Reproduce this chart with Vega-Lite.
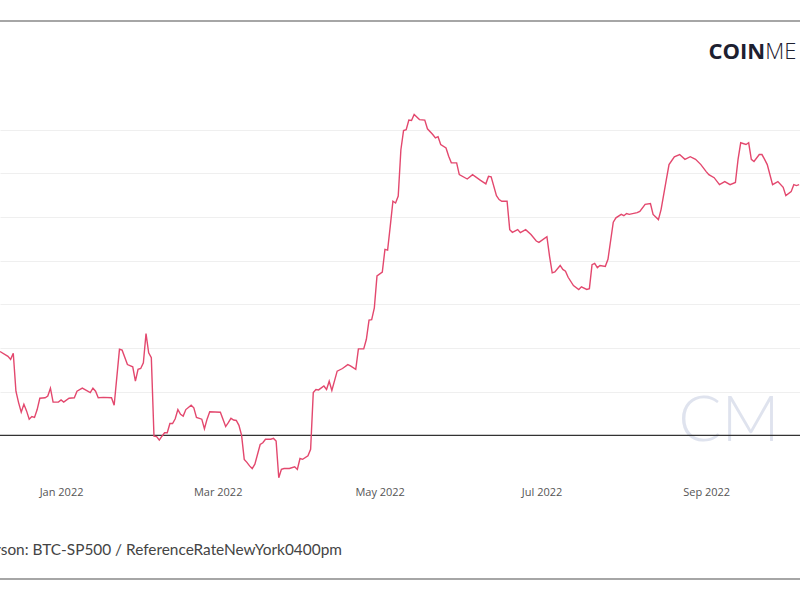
{
  "$schema": "https://vega.github.io/schema/vega-lite/v6.json",
  "width": 800,
  "height": 393,
  "autosize": "none",
  "padding": {"left": 0, "top": 86, "right": 0, "bottom": 121},
  "background": "white",
  "config": {
    "view": {"stroke": null},
    "font": "Open Sans",
    "axisX": {"domain": false, "ticks": false, "grid": false, "labelFont": "Open Sans", "labelFontSize": 11, "labelColor": "#555555", "labelPadding": 7, "title": null},
    "axisY": {"domain": false, "ticks": false, "labels": false, "grid": true, "gridColor": "#efefef", "gridWidth": 1.2, "title": null}
  },
  "datasets": {
    "one": [{}],
    "corr": [
      {"date": "2021-12-09", "value": 0.192},
      {"date": "2021-12-12", "value": 0.181},
      {"date": "2021-12-13", "value": 0.174},
      {"date": "2021-12-14", "value": 0.188},
      {"date": "2021-12-15", "value": 0.101},
      {"date": "2021-12-16", "value": 0.075},
      {"date": "2021-12-17", "value": 0.053},
      {"date": "2021-12-18", "value": 0.071},
      {"date": "2021-12-19", "value": 0.056},
      {"date": "2021-12-20", "value": 0.037},
      {"date": "2021-12-21", "value": 0.043},
      {"date": "2021-12-22", "value": 0.041},
      {"date": "2021-12-23", "value": 0.059},
      {"date": "2021-12-24", "value": 0.085},
      {"date": "2021-12-26", "value": 0.086},
      {"date": "2021-12-27", "value": 0.090},
      {"date": "2021-12-28", "value": 0.108},
      {"date": "2021-12-29", "value": 0.076},
      {"date": "2021-12-31", "value": 0.076},
      {"date": "2022-01-01", "value": 0.081},
      {"date": "2022-01-02", "value": 0.076},
      {"date": "2022-01-04", "value": 0.085},
      {"date": "2022-01-06", "value": 0.086},
      {"date": "2022-01-07", "value": 0.101},
      {"date": "2022-01-09", "value": 0.108},
      {"date": "2022-01-12", "value": 0.098},
      {"date": "2022-01-13", "value": 0.108},
      {"date": "2022-01-14", "value": 0.101},
      {"date": "2022-01-15", "value": 0.086},
      {"date": "2022-01-17", "value": 0.087},
      {"date": "2022-01-20", "value": 0.086},
      {"date": "2022-01-21", "value": 0.069},
      {"date": "2022-01-23", "value": 0.197},
      {"date": "2022-01-24", "value": 0.195},
      {"date": "2022-01-26", "value": 0.162},
      {"date": "2022-01-28", "value": 0.157},
      {"date": "2022-01-29", "value": 0.124},
      {"date": "2022-01-30", "value": 0.151},
      {"date": "2022-01-31", "value": 0.153},
      {"date": "2022-02-01", "value": 0.166},
      {"date": "2022-02-02", "value": 0.233},
      {"date": "2022-02-03", "value": 0.189},
      {"date": "2022-02-04", "value": 0.178},
      {"date": "2022-02-05", "value": -0.002},
      {"date": "2022-02-06", "value": -0.003},
      {"date": "2022-02-07", "value": -0.011},
      {"date": "2022-02-08", "value": -0.002},
      {"date": "2022-02-09", "value": 0.006},
      {"date": "2022-02-10", "value": 0.006},
      {"date": "2022-02-11", "value": 0.027},
      {"date": "2022-02-12", "value": 0.027},
      {"date": "2022-02-13", "value": 0.038},
      {"date": "2022-02-14", "value": 0.059},
      {"date": "2022-02-15", "value": 0.048},
      {"date": "2022-02-16", "value": 0.044},
      {"date": "2022-02-17", "value": 0.059},
      {"date": "2022-02-19", "value": 0.069},
      {"date": "2022-02-20", "value": 0.063},
      {"date": "2022-02-21", "value": 0.041},
      {"date": "2022-02-23", "value": 0.037},
      {"date": "2022-02-24", "value": 0.015},
      {"date": "2022-02-25", "value": 0.037},
      {"date": "2022-02-26", "value": 0.054},
      {"date": "2022-03-02", "value": 0.053},
      {"date": "2022-03-04", "value": 0.020},
      {"date": "2022-03-05", "value": 0.029},
      {"date": "2022-03-06", "value": 0.039},
      {"date": "2022-03-07", "value": 0.035},
      {"date": "2022-03-08", "value": 0.034},
      {"date": "2022-03-09", "value": 0.023},
      {"date": "2022-03-10", "value": 0.000},
      {"date": "2022-03-11", "value": -0.055},
      {"date": "2022-03-12", "value": -0.062},
      {"date": "2022-03-13", "value": -0.070},
      {"date": "2022-03-14", "value": -0.076},
      {"date": "2022-03-15", "value": -0.066},
      {"date": "2022-03-17", "value": -0.021},
      {"date": "2022-03-18", "value": -0.017},
      {"date": "2022-03-19", "value": -0.009},
      {"date": "2022-03-21", "value": -0.009},
      {"date": "2022-03-22", "value": -0.007},
      {"date": "2022-03-23", "value": -0.013},
      {"date": "2022-03-24", "value": -0.097},
      {"date": "2022-03-25", "value": -0.078},
      {"date": "2022-03-26", "value": -0.076},
      {"date": "2022-03-28", "value": -0.076},
      {"date": "2022-03-30", "value": -0.072},
      {"date": "2022-03-31", "value": -0.078},
      {"date": "2022-04-01", "value": -0.053},
      {"date": "2022-04-02", "value": -0.055},
      {"date": "2022-04-04", "value": -0.047},
      {"date": "2022-04-05", "value": -0.032},
      {"date": "2022-04-06", "value": 0.098},
      {"date": "2022-04-07", "value": 0.105},
      {"date": "2022-04-08", "value": 0.104},
      {"date": "2022-04-10", "value": 0.113},
      {"date": "2022-04-11", "value": 0.105},
      {"date": "2022-04-12", "value": 0.124},
      {"date": "2022-04-13", "value": 0.103},
      {"date": "2022-04-15", "value": 0.147},
      {"date": "2022-04-17", "value": 0.153},
      {"date": "2022-04-19", "value": 0.162},
      {"date": "2022-04-20", "value": 0.159},
      {"date": "2022-04-22", "value": 0.151},
      {"date": "2022-04-23", "value": 0.198},
      {"date": "2022-04-25", "value": 0.198},
      {"date": "2022-04-26", "value": 0.220},
      {"date": "2022-04-27", "value": 0.264},
      {"date": "2022-04-28", "value": 0.265},
      {"date": "2022-04-29", "value": 0.292},
      {"date": "2022-04-30", "value": 0.365},
      {"date": "2022-05-02", "value": 0.374},
      {"date": "2022-05-03", "value": 0.426},
      {"date": "2022-05-04", "value": 0.424},
      {"date": "2022-05-05", "value": 0.479},
      {"date": "2022-05-06", "value": 0.536},
      {"date": "2022-05-07", "value": 0.532},
      {"date": "2022-05-08", "value": 0.548},
      {"date": "2022-05-09", "value": 0.654},
      {"date": "2022-05-10", "value": 0.698},
      {"date": "2022-05-11", "value": 0.700},
      {"date": "2022-05-12", "value": 0.722},
      {"date": "2022-05-13", "value": 0.721},
      {"date": "2022-05-14", "value": 0.735},
      {"date": "2022-05-15", "value": 0.729},
      {"date": "2022-05-16", "value": 0.723},
      {"date": "2022-05-18", "value": 0.722},
      {"date": "2022-05-19", "value": 0.702},
      {"date": "2022-05-21", "value": 0.689},
      {"date": "2022-05-22", "value": 0.681},
      {"date": "2022-05-23", "value": 0.684},
      {"date": "2022-05-24", "value": 0.666},
      {"date": "2022-05-26", "value": 0.658},
      {"date": "2022-05-27", "value": 0.639},
      {"date": "2022-05-28", "value": 0.624},
      {"date": "2022-05-30", "value": 0.624},
      {"date": "2022-05-31", "value": 0.597},
      {"date": "2022-06-03", "value": 0.587},
      {"date": "2022-06-05", "value": 0.597},
      {"date": "2022-06-08", "value": 0.584},
      {"date": "2022-06-10", "value": 0.576},
      {"date": "2022-06-11", "value": 0.593},
      {"date": "2022-06-12", "value": 0.592},
      {"date": "2022-06-14", "value": 0.549},
      {"date": "2022-06-15", "value": 0.540},
      {"date": "2022-06-16", "value": 0.536},
      {"date": "2022-06-18", "value": 0.536},
      {"date": "2022-06-19", "value": 0.471},
      {"date": "2022-06-20", "value": 0.465},
      {"date": "2022-06-22", "value": 0.471},
      {"date": "2022-06-23", "value": 0.464},
      {"date": "2022-06-25", "value": 0.471},
      {"date": "2022-06-27", "value": 0.460},
      {"date": "2022-06-29", "value": 0.445},
      {"date": "2022-06-30", "value": 0.442},
      {"date": "2022-07-03", "value": 0.455},
      {"date": "2022-07-04", "value": 0.410},
      {"date": "2022-07-05", "value": 0.372},
      {"date": "2022-07-06", "value": 0.374},
      {"date": "2022-07-08", "value": 0.389},
      {"date": "2022-07-09", "value": 0.380},
      {"date": "2022-07-10", "value": 0.376},
      {"date": "2022-07-11", "value": 0.362},
      {"date": "2022-07-13", "value": 0.343},
      {"date": "2022-07-15", "value": 0.334},
      {"date": "2022-07-16", "value": 0.340},
      {"date": "2022-07-18", "value": 0.334},
      {"date": "2022-07-19", "value": 0.336},
      {"date": "2022-07-20", "value": 0.391},
      {"date": "2022-07-21", "value": 0.394},
      {"date": "2022-07-22", "value": 0.384},
      {"date": "2022-07-23", "value": 0.389},
      {"date": "2022-07-25", "value": 0.387},
      {"date": "2022-07-26", "value": 0.403},
      {"date": "2022-07-28", "value": 0.488},
      {"date": "2022-07-29", "value": 0.498},
      {"date": "2022-07-31", "value": 0.506},
      {"date": "2022-08-01", "value": 0.503},
      {"date": "2022-08-02", "value": 0.508},
      {"date": "2022-08-03", "value": 0.506},
      {"date": "2022-08-06", "value": 0.510},
      {"date": "2022-08-07", "value": 0.513},
      {"date": "2022-08-09", "value": 0.529},
      {"date": "2022-08-11", "value": 0.531},
      {"date": "2022-08-12", "value": 0.506},
      {"date": "2022-08-14", "value": 0.494},
      {"date": "2022-08-15", "value": 0.517},
      {"date": "2022-08-17", "value": 0.586},
      {"date": "2022-08-18", "value": 0.620},
      {"date": "2022-08-20", "value": 0.638},
      {"date": "2022-08-22", "value": 0.643},
      {"date": "2022-08-24", "value": 0.632},
      {"date": "2022-08-26", "value": 0.638},
      {"date": "2022-08-28", "value": 0.632},
      {"date": "2022-08-30", "value": 0.620},
      {"date": "2022-09-01", "value": 0.604},
      {"date": "2022-09-02", "value": 0.597},
      {"date": "2022-09-04", "value": 0.590},
      {"date": "2022-09-06", "value": 0.574},
      {"date": "2022-09-08", "value": 0.581},
      {"date": "2022-09-10", "value": 0.574},
      {"date": "2022-09-12", "value": 0.579},
      {"date": "2022-09-13", "value": 0.632},
      {"date": "2022-09-14", "value": 0.670},
      {"date": "2022-09-16", "value": 0.666},
      {"date": "2022-09-17", "value": 0.670},
      {"date": "2022-09-18", "value": 0.632},
      {"date": "2022-09-19", "value": 0.627},
      {"date": "2022-09-21", "value": 0.643},
      {"date": "2022-09-22", "value": 0.643},
      {"date": "2022-09-23", "value": 0.632},
      {"date": "2022-09-24", "value": 0.620},
      {"date": "2022-09-26", "value": 0.574},
      {"date": "2022-09-28", "value": 0.581},
      {"date": "2022-09-30", "value": 0.568},
      {"date": "2022-10-01", "value": 0.549},
      {"date": "2022-10-03", "value": 0.558},
      {"date": "2022-10-04", "value": 0.574},
      {"date": "2022-10-05", "value": 0.572},
      {"date": "2022-10-06", "value": 0.574}
    ]
  },
  "layer": [
    {
      "data": {"name": "corr"},
      "mark": {"type": "line", "opacity": 0},
      "encoding": {
        "x": {
          "field": "date", "type": "temporal",
          "scale": {"domain": [{"year": 2021, "month": 12, "date": 9, "utc": true}, {"year": 2022, "month": 10, "date": 6, "hours": 8, "utc": true}]},
          "axis": {
            "values": [
              {"year": 2022, "month": 1, "date": 1, "utc": true},
              {"year": 2022, "month": 3, "date": 1, "utc": true},
              {"year": 2022, "month": 5, "date": 1, "utc": true},
              {"year": 2022, "month": 7, "date": 1, "utc": true},
              {"year": 2022, "month": 9, "date": 1, "utc": true}
            ],
            "labelExpr": "utcFormat(datum.value, '%b %Y')"
          }
        },
        "y": {
          "field": "value", "type": "quantitative",
          "scale": {"domain": [-0.1, 0.8], "nice": false, "zero": false},
          "axis": {"values": [0.1, 0.2, 0.3, 0.4, 0.5, 0.6, 0.7]}
        }
      }
    },
    {
      "data": {"name": "one"},
      "mark": {"type": "text", "text": "CM", "font": "Lato", "fontWeight": 300, "fontSize": 64, "color": "#dfe3ee", "align": "center", "baseline": "alphabetic"},
      "encoding": {
        "x": {"datum": {"year": 2022, "month": 9, "date": 9, "hours": 14, "utc": true}, "type": "temporal"},
        "y": {"datum": -0.014, "type": "quantitative"}
      }
    },
    {
      "data": {"name": "one"},
      "mark": {"type": "rule", "color": "#333333", "strokeWidth": 1.2},
      "encoding": {
        "y": {"datum": 0, "type": "quantitative"}
      }
    },
    {
      "data": {"name": "corr"},
      "mark": {"type": "line", "color": "#e3486e", "strokeWidth": 1.4, "interpolate": "linear"},
      "encoding": {
        "x": {"field": "date", "type": "temporal"},
        "y": {"field": "value", "type": "quantitative"}
      }
    },
    {
      "data": {"name": "one"},
      "mark": {"type": "rule", "color": "#a6a6a6", "strokeWidth": 2},
      "encoding": {
        "y": {"datum": 0.949, "type": "quantitative"}
      }
    },
    {
      "data": {"name": "one"},
      "mark": {"type": "rule", "color": "#a6a6a6", "strokeWidth": 2},
      "encoding": {
        "y": {"datum": -0.329, "type": "quantitative"}
      }
    },
    {
      "data": {"name": "one"},
      "mark": {"type": "text", "text": "COIN", "font": "Open Sans", "fontWeight": "bold", "fontSize": 22, "color": "#1d2030", "align": "right", "baseline": "alphabetic"},
      "encoding": {
        "x": {"datum": {"year": 2022, "month": 9, "date": 23, "hours": 5, "utc": true}, "type": "temporal"},
        "y": {"datum": 0.862, "type": "quantitative"}
      }
    },
    {
      "data": {"name": "one"},
      "mark": {"type": "text", "text": "ME", "font": "Open Sans", "fontWeight": 300, "fontSize": 22, "color": "#1d2030", "align": "left", "baseline": "alphabetic"},
      "encoding": {
        "x": {"datum": {"year": 2022, "month": 9, "date": 23, "hours": 5, "utc": true}, "type": "temporal"},
        "y": {"datum": 0.862, "type": "quantitative"}
      }
    },
    {
      "data": {"name": "one"},
      "mark": {"type": "text", "text": "Pearson: BTC-SP500 / ReferenceRateNewYork0400pm", "font": "Lato", "fontSize": 15.4, "color": "#444444", "align": "right", "baseline": "alphabetic"},
      "encoding": {
        "x": {"datum": {"year": 2022, "month": 4, "date": 16, "hours": 19, "utc": true}, "type": "temporal"},
        "y": {"datum": -0.274, "type": "quantitative"}
      }
    }
  ]
}
